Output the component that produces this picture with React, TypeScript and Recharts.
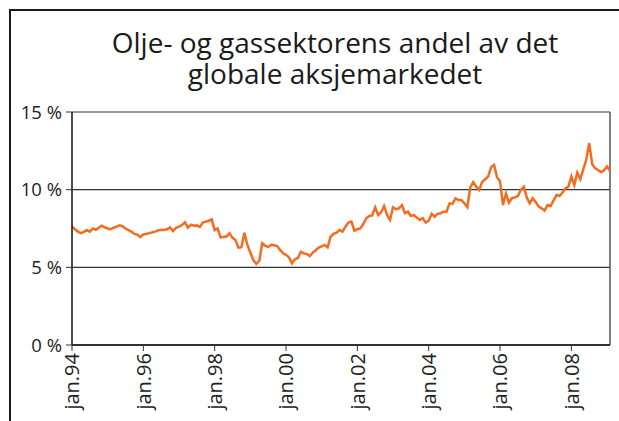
import React from 'react';
import { LineChart, Line, XAxis, YAxis, CartesianGrid, ReferenceLine } from 'recharts';

const MONTHS_NO = ['jan', 'feb', 'mar', 'apr', 'mai', 'jun', 'jul', 'aug', 'sep', 'okt', 'nov', 'des'];
const START_YEAR = 1994;

// Monthly share (%) of oil & gas sector in global equity market, jan.94 – feb.09
const shareValues = [
  7.62, 7.45, 7.30, 7.20, 7.28, 7.40, 7.30, 7.50, 7.42, 7.55, 7.68, 7.58,
  7.50, 7.45, 7.55, 7.62, 7.70, 7.65, 7.50, 7.40, 7.30, 7.15, 7.10, 6.95,
  7.12, 7.15, 7.20, 7.25, 7.30, 7.38, 7.42, 7.40, 7.45, 7.57, 7.34, 7.55,
  7.62, 7.72, 7.90, 7.55, 7.75, 7.68, 7.70, 7.60, 7.88, 7.94, 8.00, 8.09,
  7.40, 7.50, 6.93, 6.95, 7.00, 7.20, 6.90, 6.76, 6.27, 6.30, 7.23, 6.44,
  5.95, 5.47, 5.22, 5.41, 6.55, 6.40, 6.30, 6.45, 6.42, 6.37, 6.12, 5.90,
  5.80, 5.64, 5.26, 5.52, 5.60, 6.01, 5.90, 5.86, 5.73, 5.95, 6.10, 6.27,
  6.35, 6.44, 6.29, 6.97, 7.15, 7.23, 7.40, 7.30, 7.62, 7.88, 7.94, 7.36,
  7.45, 7.51, 7.79, 8.16, 8.31, 8.34, 8.87, 8.37, 8.55, 8.95, 8.37, 8.05,
  8.87, 8.74, 8.80, 9.01, 8.48, 8.58, 8.30, 8.37, 8.20, 8.05, 8.16, 7.88,
  8.00, 8.44, 8.26, 8.44, 8.48, 8.58, 8.58, 9.12, 9.08, 9.44, 9.34, 9.34,
  9.12, 8.87, 10.15, 10.48, 10.19, 9.98, 10.50, 10.67, 10.84, 11.45, 11.59, 10.80,
  10.55, 9.01, 9.75, 9.16, 9.45, 9.50, 9.59, 9.98, 10.19, 9.50, 9.12, 9.45,
  9.20, 8.91, 8.80, 8.65, 9.01, 8.95, 9.30, 9.66, 9.59, 9.80, 10.09, 10.19,
  10.84, 10.30, 11.10, 10.67, 11.30, 11.91, 13.00, 11.65, 11.38, 11.27, 11.12, 11.25,
  11.50, 11.20,
];

const xTickLabels = ['jan.94', 'jan.96', 'jan.98', 'jan.00', 'jan.02', 'jan.04', 'jan.06', 'jan.08'];
const yTicks = [0, 5, 10, 15];
const titleLines = ['Olje- og gassektorens andel av det', 'globale aksjemarkedet'];

const data = shareValues.map((v, i) => ({
  date: `${MONTHS_NO[i % 12]}.${String((START_YEAR + Math.floor(i / 12)) % 100).padStart(2, '0')}`,
  share: v,
}));
const lastDate = data[data.length - 1].date;

const FONT = '"Open Sans", "Noto Sans", sans-serif';

const XTick = (props: any) => {
  const { x, y, payload } = props;
  return (
    <text
      x={x}
      y={y}
      transform={`rotate(-90, ${x}, ${y})`}
      textAnchor="end"
      dy="0.36em"
      fontSize={20}
      fill="#222"
      fontFamily={FONT}
    >
      {payload.value}
    </text>
  );
};

export default function App() {
  return (
    <div style={{ position: 'fixed', left: 0, top: 0, width: 619, height: 421, background: '#fff', fontFamily: FONT, overflow: 'hidden' }}>
      <div
        style={{
          position: 'absolute',
          left: 9,
          top: 9,
          width: 620,
          height: 420,
          borderLeft: '2px solid #1a1a1a',
          borderTop: '2px solid #1a1a1a',
        }}
      />
      <div
        style={{
          position: 'absolute',
          left: 40,
          top: 27,
          width: 590,
          textAlign: 'center',
          fontSize: 28,
          lineHeight: '31px',
          color: '#1a1a1a',
          whiteSpace: 'pre-line',
        }}
      >
        {titleLines.join('\n')}
      </div>
      <div style={{ position: 'absolute', left: 0, top: 0 }}>
        <LineChart width={619} height={421} data={data} margin={{ top: 112, right: 9, bottom: 6, left: 12 }}>
          <CartesianGrid horizontal vertical={false} stroke="#333" strokeWidth={1.2} />
          <XAxis
            dataKey="date"
            ticks={xTickLabels}
            interval={0}
            height={70}
            tickSize={6}
            tick={<XTick />}
            axisLine={{ stroke: '#111', strokeWidth: 1.5 }}
            tickLine={{ stroke: '#333' }}
          />
          <YAxis
            domain={[0, 15]}
            ticks={yTicks}
            width={60}
            tickSize={6}
            tickMargin={4}
            tickFormatter={(v: number) => `${v} %`}
            tick={{ fontSize: 18.5, fill: '#222' }}
            axisLine={{ stroke: '#111', strokeWidth: 1.5 }}
            tickLine={{ stroke: '#333' }}
          />
          <ReferenceLine x={lastDate} stroke="#555" strokeWidth={1.5} />
          <Line
            type="linear"
            dataKey="share"
            stroke="#F36C21"
            strokeWidth={2.5}
            dot={false}
            isAnimationActive={false}
          />
        </LineChart>
      </div>
    </div>
  );
}
